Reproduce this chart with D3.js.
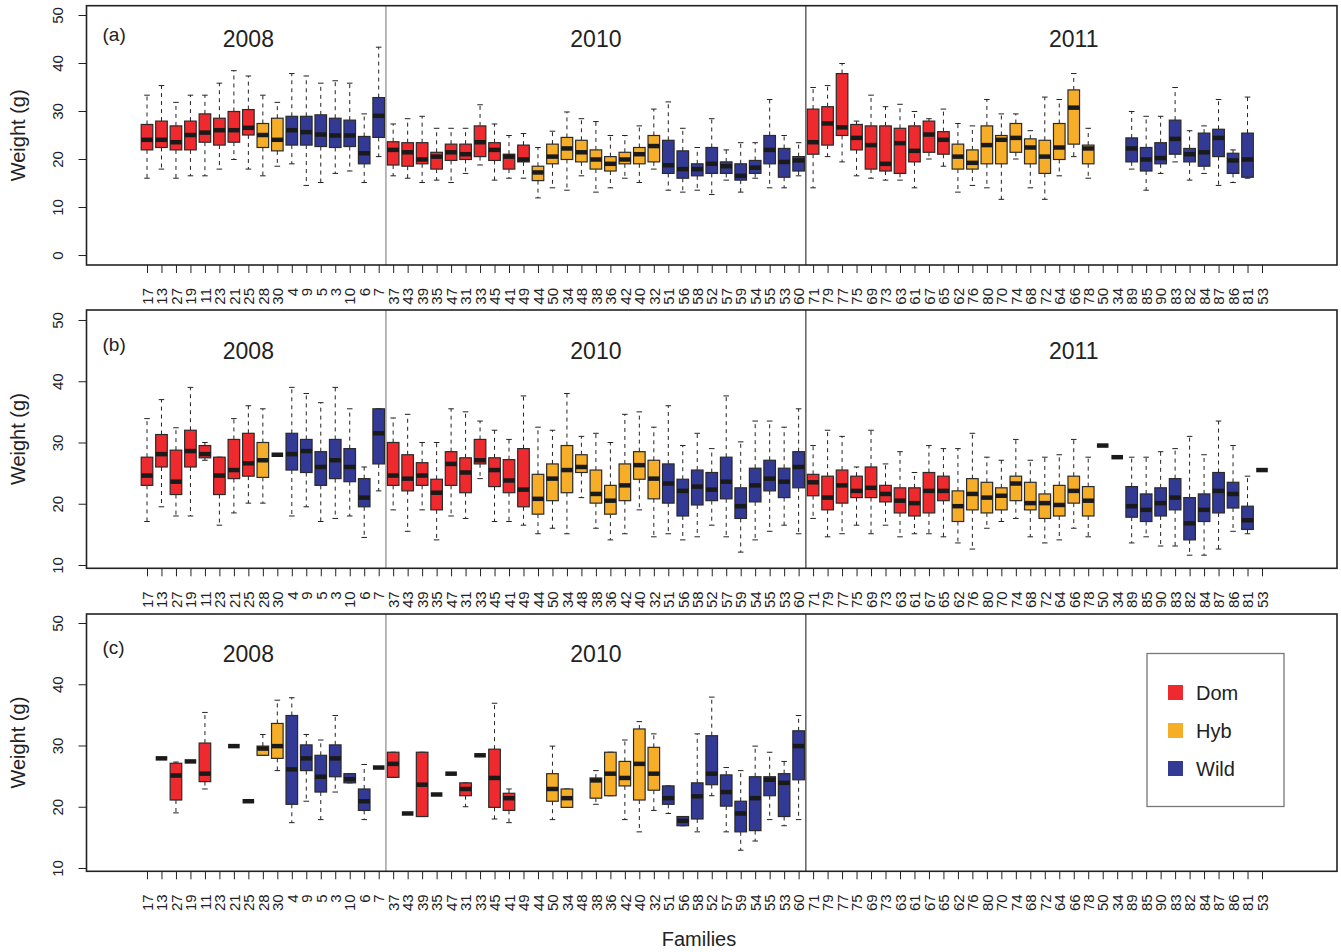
<!DOCTYPE html>
<html>
<head>
<meta charset="utf-8">
<script src="https://cdn.jsdelivr.net/npm/d3@7"></script>
<style>
  body { margin: 0; background: #fff; }
  svg { font-family: 'Liberation Sans', Arial, Helvetica, sans-serif; }
</style>
</head>
<body>
<svg id="chart" width="1341" height="952"></svg>
<script>
// family labels along the x axis (same order in all three panels)
const families = [
  '17', '13', '27', '19', '11', '23', '21', '25', '28', '30', '4', '9', '5', '3', '10', '6', '7',
  '37', '43', '39', '35', '47', '31', '33', '45', '41', '49', '44', '50', '34', '48', '38', '36', '42', '40', '32',
  '51', '56', '58', '52', '57', '59', '54', '55', '53', '60',
  '71', '79', '77', '75', '69', '73', '63', '61', '67', '65', '62', '76', '80', '70', '74', '68', '72', '64', '66', '78',
  '50', '34', '89', '85', '90', '83', '82', '84', '87', '86', '81', '53',
];

// D = Dom, H = Hyb, W = Wild
const familyGroup = [
  'D', 'D', 'D', 'D', 'D', 'D', 'D', 'D', 'H', 'H', 'W', 'W', 'W', 'W', 'W', 'W', 'W',
  'D', 'D', 'D', 'D', 'D', 'D', 'D', 'D', 'D', 'D', 'H', 'H', 'H', 'H', 'H', 'H', 'H', 'H', 'H',
  'W', 'W', 'W', 'W', 'W', 'W', 'W', 'W', 'W', 'W',
  'D', 'D', 'D', 'D', 'D', 'D', 'D', 'D', 'D', 'D', 'H', 'H', 'H', 'H', 'H', 'H', 'H', 'H', 'H', 'H',
  'H', 'H', 'W', 'W', 'W', 'W', 'W', 'W', 'W', 'W', 'W', 'W',
];

const yearNames = ['2008', '2010', '2011'];
const yearFirstIndex = [0, 17, 46];
const yearLabelIndex = [7, 31, 64];

const groupNames = ['Dom', 'Hyb', 'Wild'];
const groupKeys = ['D', 'H', 'W'];

// [lower whisker, q1, median, q3, upper whisker], null = no data
const weightsA = [
  [16.0, 21.9, 24.0, 27.2, 33.3], [17.9, 22.4, 24.0, 27.9, 35.3], [16.0, 21.9, 23.5, 26.9, 31.8],
  [16.5, 21.9, 25.0, 27.9, 33.3], [16.5, 23.5, 25.5, 29.4, 33.3], [17.9, 22.9, 26.0, 28.5, 35.8],
  [19.9, 23.5, 26.0, 29.9, 38.4], [17.9, 25.0, 26.5, 30.3, 37.3], [16.5, 22.4, 25.0, 27.4, 33.3],
  [18.5, 21.7, 24.0, 28.5, 31.8], [19.0, 22.9, 26.0, 28.9, 37.8], [14.5, 22.9, 25.6, 28.9, 37.3],
  [15.1, 22.6, 25.1, 29.2, 35.8], [17.0, 22.4, 24.9, 28.5, 36.3], [17.5, 22.6, 24.9, 28.1, 35.8],
  [15.1, 19.0, 21.2, 24.7, 29.4], [20.5, 24.5, 29.0, 32.8, 43.3],
  [16.5, 18.75, 21.9, 23.6, 27.3], [16.0, 18.5, 21.4, 23.4, 28.4], [15.1, 19.0, 19.9, 23.4, 28.9],
  [15.6, 17.9, 20.5, 21.4, 26.4], [15.1, 19.7, 21.4, 23.1, 26.4], [17.0, 19.9, 21.0, 23.1, 26.4],
  [18.75, 20.5, 23.5, 26.9, 31.3], [15.6, 19.7, 21.9, 23.4, 27.3], [16.0, 17.9, 20.5, 21.0, 24.9],
  [16.0, 19.4, 19.9, 22.9, 25.3], [11.9, 15.5, 17.2, 18.5, 22.4], [14.0, 19.0, 20.5, 23.1, 25.8],
  [13.5, 19.9, 22.2, 24.5, 29.8], [16.5, 19.4, 21.4, 23.9, 28.4], [13.1, 17.9, 19.9, 21.9, 27.8],
  [14.0, 17.5, 19.0, 20.5, 24.9], [16.0, 19.0, 19.9, 21.4, 24.9], [15.1, 19.0, 21.0, 22.4, 26.9],
  [17.9, 19.4, 22.7, 24.9, 30.4], [13.5, 17.0, 18.7, 23.9, 31.9], [13.1, 16.0, 17.9, 21.7, 26.4],
  [13.5, 16.5, 17.9, 19.0, 22.4], [12.6, 17.0, 19.0, 22.4, 28.4], [15.6, 17.0, 18.5, 19.4, 21.9],
  [13.1, 15.6, 16.5, 19.0, 23.4], [16.0, 17.0, 18.2, 19.7, 23.4], [14.0, 19.0, 21.9, 24.9, 32.4],
  [14.0, 16.2, 19.4, 22.2, 24.9], [16.5, 17.5, 19.7, 20.5, 23.4],
  [14.0, 21.0, 23.5, 30.4, 34.9], [20.5, 22.9, 27.4, 30.9, 35.3], [19.4, 24.9, 26.6, 37.8, 39.9],
  [16.5, 21.9, 24.4, 27.2, 27.9], [16.0, 17.9, 22.9, 26.9, 33.3], [15.6, 17.5, 19.0, 26.9, 30.9],
  [15.6, 17.0, 23.3, 26.4, 31.4], [14.0, 19.4, 21.7, 26.9, 29.9], [20.0, 21.4, 25.1, 27.9, 28.4],
  [18.5, 21.0, 24.0, 25.7, 30.4], [13.1, 17.9, 20.5, 23.1, 27.4], [14.5, 17.9, 19.2, 21.9, 26.9],
  [14.0, 19.0, 22.9, 26.9, 32.4], [11.6, 19.0, 24.0, 24.9, 29.4], [20.0, 21.4, 24.4, 27.4, 29.4],
  [14.0, 19.0, 22.4, 24.2, 25.9], [11.6, 17.0, 20.5, 23.9, 32.9], [16.5, 19.9, 22.4, 27.4, 32.4],
  [20.5, 23.1, 30.7, 34.4, 37.8], [16.0, 19.0, 22.2, 22.9, 26.4], null, null,
  [17.9, 19.4, 22.2, 24.4, 29.9], [13.5, 17.5, 19.9, 22.4, 28.9], [17.0, 19.0, 20.2, 23.4, 28.9],
  [19.4, 21.0, 24.2, 28.1, 34.9], [15.6, 19.4, 21.0, 22.2, 25.9], [17.0, 18.5, 21.4, 25.4, 26.9],
  [14.5, 20.5, 24.4, 26.2, 32.4], [15.1, 17.0, 19.7, 21.2, 21.9], [16.0, 16.2, 19.9, 25.4, 32.9],
  null,
];

const weightsB = [
  [17.1, 23.0, 24.6, 27.6, 33.9], [19.5, 26.0, 28.1, 31.3, 37.0], [18.0, 21.5, 23.6, 28.75, 32.4],
  [18.0, 26.0, 28.6, 32.0, 39.0], [27.1, 27.5, 28.1, 29.5, 30.0], [16.5, 21.5, 24.6, 27.6, 27.6],
  [18.5, 24.1, 25.5, 30.5, 33.9], [20.1, 24.5, 26.6, 31.5, 36.0], [20.1, 24.3, 27.1, 30.0, 35.5],
  [28.0, 28.0, 28.0, 28.0, 28.0], [18.0, 25.5, 28.1, 31.5, 39.0], [19.5, 25.1, 28.6, 30.5, 38.0],
  [17.1, 23.0, 26.0, 28.5, 36.5], [17.6, 24.1, 27.1, 30.5, 39.0], [18.0, 23.6, 26.0, 29.0, 35.5],
  [14.5, 19.5, 21.0, 24.1, 26.0], [22.1, 26.5, 31.5, 35.5, 35.5],
  [19.0, 23.0, 24.6, 30.0, 34.0], [15.5, 22.1, 24.1, 28.0, 34.6], [19.0, 23.0, 24.6, 26.7, 30.0],
  [14.1, 19.0, 21.8, 24.0, 30.0], [18.0, 23.0, 26.5, 28.5, 35.5], [17.6, 21.8, 25.1, 27.5, 35.0],
  [24.1, 26.5, 27.1, 30.5, 33.5], [17.1, 22.8, 25.5, 27.5, 32.0], [17.1, 21.8, 23.8, 27.2, 30.5],
  [16.5, 19.5, 22.3, 29.0, 37.6], [15.1, 18.3, 20.8, 24.8, 32.5], [16.0, 20.5, 24.1, 26.5, 32.0],
  [15.1, 21.8, 25.5, 29.5, 38.0], [21.0, 25.1, 26.0, 28.0, 31.0], [16.0, 20.1, 21.6, 25.5, 31.5],
  [14.1, 18.3, 20.5, 23.0, 30.0], [15.1, 20.5, 23.0, 26.5, 34.6], [19.0, 24.0, 26.3, 28.5, 35.0],
  [14.6, 20.8, 24.1, 27.1, 32.5], [15.1, 20.1, 23.3, 26.5, 36.0], [14.1, 18.0, 22.1, 24.0, 29.5],
  [14.6, 19.8, 22.8, 25.5, 31.5], [16.5, 20.5, 22.3, 25.1, 29.0], [14.6, 20.8, 23.6, 27.6, 37.6],
  [12.1, 17.6, 19.6, 22.6, 30.1], [14.1, 20.3, 23.0, 25.8, 33.5], [15.5, 22.1, 24.1, 27.1, 33.5],
  [16.5, 21.0, 23.6, 25.8, 32.5], [15.1, 22.6, 26.0, 28.5, 35.5],
  [17.6, 21.3, 23.5, 24.8, 29.5], [14.6, 19.0, 21.0, 24.5, 32.0], [15.1, 20.1, 23.0, 25.5, 31.0],
  [16.5, 21.0, 22.1, 24.5, 26.0], [15.1, 21.0, 22.6, 26.0, 32.0], [16.5, 20.3, 21.6, 23.0, 26.5],
  [14.6, 18.5, 20.5, 22.6, 28.5], [15.1, 18.0, 20.1, 22.6, 25.1], [15.1, 18.5, 22.1, 25.1, 29.5],
  [14.6, 20.5, 22.1, 24.5, 29.0], [13.6, 17.1, 19.6, 22.1, 29.0], [12.6, 19.0, 21.6, 24.1, 31.5],
  [16.0, 18.5, 21.0, 23.5, 27.6], [17.1, 19.0, 21.3, 22.6, 27.1], [17.6, 20.5, 23.3, 24.5, 30.5],
  [14.6, 19.0, 20.1, 23.5, 27.1], [13.6, 17.6, 20.1, 21.6, 27.6], [14.1, 18.0, 19.8, 23.0, 28.0],
  [16.0, 20.1, 22.1, 24.5, 30.5], [14.6, 18.0, 20.5, 22.8, 27.6],
  [29.5, 29.5, 29.5, 29.5, 29.5], [27.6, 27.6, 27.6, 27.6, 27.6],
  [13.6, 17.8, 19.6, 22.8, 27.6], [14.6, 17.1, 19.0, 21.6, 27.6], [13.1, 18.0, 20.1, 22.6, 28.5],
  [13.1, 19.0, 21.0, 24.1, 29.0], [11.6, 14.1, 16.8, 21.0, 31.0], [11.6, 17.1, 19.0, 21.6, 28.0],
  [12.6, 18.5, 22.1, 25.1, 33.5], [15.5, 19.3, 21.6, 23.5, 29.5], [15.1, 15.8, 17.3, 19.6, 24.5],
  [25.5, 25.5, 25.5, 25.5, 25.5],
];

const weightsC = [
  null, [27.9, 27.9, 27.9, 27.9, 27.9], [19.0, 21.1, 25.1, 27.1, 27.3],
  [27.4, 27.4, 27.4, 27.4, 27.4], [22.9, 24.1, 25.4, 30.4, 35.4], null,
  [29.9, 29.9, 29.9, 29.9, 29.9], [20.9, 20.9, 20.9, 20.9, 20.9], [28.4, 28.4, 29.5, 29.9, 31.8],
  [25.9, 27.9, 29.9, 33.6, 37.4], [17.4, 20.4, 26.1, 34.9, 37.8], [20.9, 25.9, 27.9, 30.1, 31.8],
  [17.9, 22.4, 24.9, 28.4, 30.9], [22.4, 24.9, 27.9, 30.1, 34.9], [23.9, 23.9, 24.5, 25.4, 25.4],
  [17.9, 19.4, 20.9, 22.9, 26.9], [26.4, 26.4, 26.4, 26.4, 26.4],
  [24.8, 24.8, 27.0, 28.9, 28.9], [18.9, 18.9, 18.9, 18.9, 18.9], [18.4, 18.4, 23.6, 28.9, 28.9],
  [22.0, 22.0, 22.0, 22.0, 22.0], [25.4, 25.4, 25.4, 25.4, 25.4], [20.0, 21.8, 22.9, 23.9, 23.9],
  [28.4, 28.4, 28.4, 28.4, 28.4], [18.0, 19.9, 24.7, 29.4, 36.9], [17.4, 19.4, 21.4, 22.2, 22.9],
  null, null, [17.9, 20.9, 22.9, 25.4, 29.9],
  [19.9, 19.9, 21.4, 22.9, 22.9], null, [20.4, 21.4, 24.3, 24.7, 25.9],
  [21.8, 21.8, 25.4, 28.9, 28.9], [17.9, 23.4, 24.7, 27.4, 30.9], [15.9, 21.1, 27.0, 32.7, 33.9],
  [19.4, 22.7, 25.4, 29.7, 31.9], [18.9, 20.4, 21.4, 23.4, 23.4], [16.9, 16.9, 17.7, 18.4, 18.4],
  [15.9, 18.0, 21.7, 23.9, 31.9], [21.8, 23.6, 25.4, 31.6, 37.9], [15.9, 20.1, 22.4, 25.2, 26.4],
  [12.9, 15.9, 18.9, 20.9, 25.9], [14.4, 16.1, 21.4, 24.9, 29.9], [17.9, 21.8, 24.4, 24.9, 28.9],
  [16.9, 18.4, 23.9, 25.4, 27.4], [17.9, 24.4, 29.9, 32.4, 34.9],
  null, null, null, null, null, null, null, null, null, null,
  null, null, null, null, null, null, null, null, null, null,
  null, null, null, null, null, null, null, null, null, null,
  null, null,
];

const colors = { D: '#ee2a2e', H: '#f6ae28', W: '#333a96' };

class BoxPanel {
  constructor(svg, opts) {
    this.svg = svg;
    this.stats = opts.stats;
    this.tag = opts.tag;
    this.top = opts.top;
    this.bottom = opts.bottom;
    this.left = 86.5;
    this.right = 1337;
    this.yearCount = opts.yearCount;
    this.g = svg.append('g');

    this.x = d3.scalePoint()
      .domain(d3.range(families.length))
      .range([147, 1262]);
    this.y = d3.scaleLinear()
      .domain(opts.yDomain)
      .range([this.bottom, this.top]);
    this.yTicks = opts.yTicks;

    this.drawDividers();
    this.drawBoxes();
    this.drawAxis();
    this.drawLabels();
  }

  drawDividers() {
    const divColors = ['#8a8a8a', '#3a3a3a'];
    yearFirstIndex.slice(1).forEach((first, k) => {
      const xPos = (this.x(first - 1) + this.x(first)) / 2;
      this.g.append('line')
        .attr('x1', xPos).attr('x2', xPos)
        .attr('y1', this.top).attr('y2', this.bottom)
        .attr('stroke', divColors[k])
        .attr('stroke-width', 1.2);
    });
  }

  drawBoxes() {
    const bw = this.x.step() * 0.8;
    const sw = bw * 0.48;
    const items = this.stats
      .map((s, i) => ({ i, s }))
      .filter(d => d.s !== null);

    const box = this.g.append('g')
      .selectAll('g')
      .data(items)
      .join('g')
      .attr('transform', d => `translate(${this.x(d.i)},0)`);

    // whiskers (dashed) and staples
    box.append('line')
      .attr('y1', d => this.y(d.s[3]))
      .attr('y2', d => this.y(d.s[4]))
      .attr('stroke', '#222')
      .attr('stroke-dasharray', '4,4');
    box.append('line')
      .attr('y1', d => this.y(d.s[1]))
      .attr('y2', d => this.y(d.s[0]))
      .attr('stroke', '#222')
      .attr('stroke-dasharray', '4,4');
    box.append('line')
      .attr('x1', -sw / 2).attr('x2', sw / 2)
      .attr('y1', d => this.y(d.s[4])).attr('y2', d => this.y(d.s[4]))
      .attr('stroke', '#222');
    box.append('line')
      .attr('x1', -sw / 2).attr('x2', sw / 2)
      .attr('y1', d => this.y(d.s[0])).attr('y2', d => this.y(d.s[0]))
      .attr('stroke', '#222');

    box.append('rect')
      .attr('x', -bw / 2)
      .attr('width', bw)
      .attr('y', d => this.y(d.s[3]))
      .attr('height', d => this.y(d.s[1]) - this.y(d.s[3]))
      .attr('fill', d => colors[familyGroup[d.i]])
      .attr('stroke', '#2a2a2a')
      .attr('stroke-width', 1.2);

    box.append('line')
      .attr('x1', -bw / 2).attr('x2', bw / 2)
      .attr('y1', d => this.y(d.s[2])).attr('y2', d => this.y(d.s[2]))
      .attr('stroke', '#1a1a1a')
      .attr('stroke-width', 4.5);
  }

  drawAxis() {
    const xAxis = this.g.append('g')
      .attr('transform', `translate(0, ${this.bottom})`)
      .call(d3.axisBottom(this.x).tickSize(8).tickFormat(i => families[i]));
    xAxis.select('.domain').remove();
    xAxis.selectAll('line').attr('stroke', '#222');
    xAxis.selectAll('text')
      .attr('transform', 'rotate(-90)')
      .attr('x', -23)
      .attr('y', 0)
      .attr('dy', '0.35em')
      .attr('font-size', 15)
      .attr('font-family', 'Liberation Sans, Arial, sans-serif')
      .attr('fill', '#222')
      .style('text-anchor', 'end');

    const yAxis = this.g.append('g')
      .attr('transform', `translate(${this.left}, 0)`)
      .call(d3.axisLeft(this.y).tickValues(this.yTicks).tickSize(8));
    yAxis.select('.domain').remove();
    yAxis.selectAll('line').attr('stroke', '#222');
    yAxis.selectAll('text')
      .attr('transform', 'rotate(-90)')
      .attr('x', 0)
      .attr('y', -24)
      .attr('dy', 0)
      .attr('font-size', 15)
      .attr('font-family', 'Liberation Sans, Arial, sans-serif')
      .attr('fill', '#222')
      .style('text-anchor', 'middle');

    this.g.append('rect')
      .attr('x', this.left)
      .attr('y', this.top)
      .attr('width', this.right - this.left)
      .attr('height', this.bottom - this.top)
      .attr('fill', 'none')
      .attr('stroke', '#222')
      .attr('stroke-width', 1.6);
  }

  drawLabels() {
    const mid = (this.top + this.bottom) / 2;
    this.g.append('text')
      .attr('transform', `translate(25, ${mid}) rotate(-90)`)
      .style('text-anchor', 'middle')
      .attr('font-size', 20)
      .attr('fill', '#222')
      .text('Weight (g)');

    this.g.append('text')
      .attr('x', this.left + 16)
      .attr('y', this.y(46))
      .attr('dy', '0.35em')
      .attr('font-size', 19)
      .attr('fill', '#222')
      .text(this.tag);

    for (let k = 0; k < this.yearCount; k += 1) {
      this.g.append('text')
        .attr('x', this.x(yearLabelIndex[k]))
        .attr('y', this.y(45))
        .attr('dy', '0.35em')
        .style('text-anchor', 'middle')
        .attr('font-size', 23)
        .attr('fill', '#222')
        .text(yearNames[k]);
    }
  }
}

const svg = d3.select('#chart');

new BoxPanel(svg, {
  stats: weightsA, tag: '(a)', top: 5.7, bottom: 265,
  yDomain: [-2.08, 51.94], yTicks: [0, 10, 20, 30, 40, 50], yearCount: 3,
});
new BoxPanel(svg, {
  stats: weightsB, tag: '(b)', top: 310, bottom: 568.3,
  yDomain: [9.46, 51.63], yTicks: [10, 20, 30, 40, 50], yearCount: 3,
});
new BoxPanel(svg, {
  stats: weightsC, tag: '(c)', top: 614, bottom: 871.3,
  yDomain: [9.46, 51.47], yTicks: [10, 20, 30, 40, 50], yearCount: 2,
});

svg.append('text')
  .attr('x', 699)
  .attr('y', 946)
  .style('text-anchor', 'middle')
  .attr('font-size', 20)
  .attr('fill', '#222')
  .text('Families');

// legend
const legend = svg.append('g')
  .attr('transform', 'translate(1147, 653.5)');
legend.append('rect')
  .attr('width', 137)
  .attr('height', 153)
  .attr('fill', '#fff')
  .attr('stroke', '#777')
  .attr('stroke-width', 1.3);
const row = legend.selectAll('.row')
  .data(groupNames)
  .join('g')
  .attr('class', 'row')
  .attr('transform', (d, i) => `translate(21, ${39 + i * 38})`);
row.append('rect')
  .attr('y', -7.5)
  .attr('width', 15)
  .attr('height', 15)
  .attr('fill', (d, i) => colors[groupKeys[i]]);
row.append('text')
  .attr('x', 28)
  .attr('dy', '0.35em')
  .attr('font-size', 20)
  .attr('fill', '#222')
  .text(d => d);
</script>
</body>
</html>
